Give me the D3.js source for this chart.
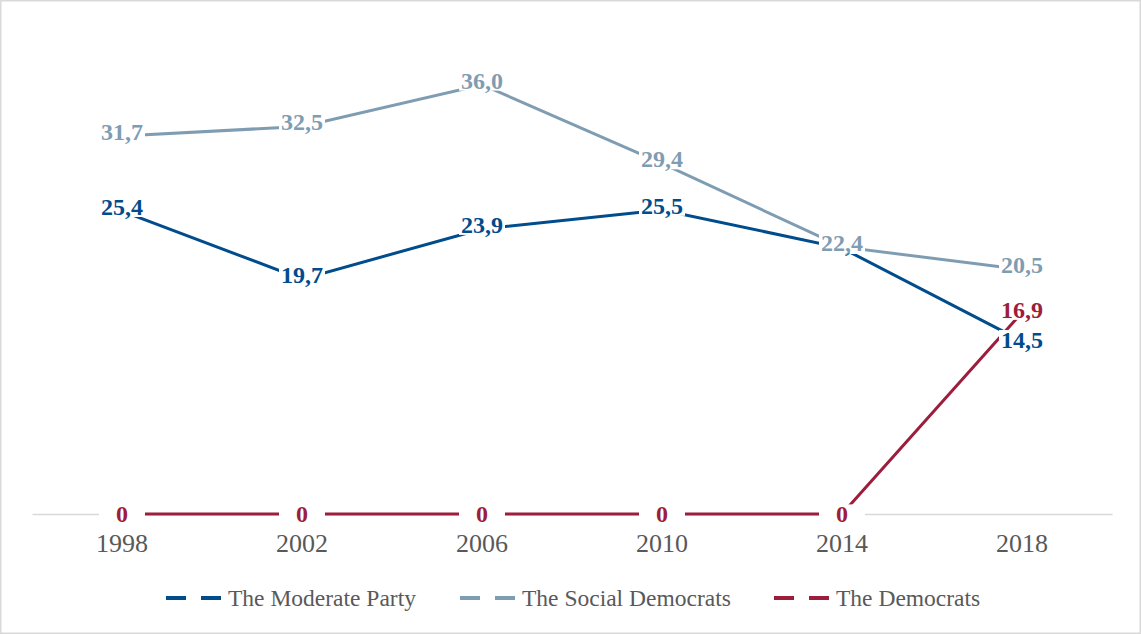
<!DOCTYPE html>
<html><head><meta charset="utf-8">
<script src="https://cdn.jsdelivr.net/npm/d3@7"></script>
<style>body{margin:0;background:#fff}svg{display:block}</style>
</head><body><svg id="c" width="1141" height="634"></svg>
<script>
const years = ["1998","2002","2006","2010","2014","2018"];
const moderate = [25.4, 19.7, 23.9, 25.5, 22.3, 14.5];
const socialDemocrats = [31.7, 32.5, 36.0, 29.4, 22.4, 20.5];
const democrats = [0, 0, 0, 0, 0, 16.9];
const seriesNames = ["The Moderate Party","The Social Democrats","The Democrats"];
const colors = ["#004c8c","#7f9db2","#9c1d3c"];
const serif = "'Liberation Serif', 'Times New Roman', serif";

const svg = d3.select("#c");
svg.append("rect").attr("x",0.75).attr("y",0.75).attr("width",1139.5).attr("height",632.5)
  .attr("fill","#fff").attr("stroke","#d9d9d9").attr("stroke-width",1.5);

const x = d3.scaleBand().domain(years).range([32,1112]);
const y = d3.scaleLinear().domain([0,40]).range([514,37]);
const cx = d => x(d) + x.bandwidth()/2;

const ax = svg.append("g").attr("transform","translate(0,514)")
  .call(d3.axisBottom(x).tickSize(0).tickPadding(20));
ax.select(".domain").attr("stroke","#d9d9d9").attr("stroke-width",1.5);
ax.selectAll("text").attr("font-family",serif).attr("font-size",26).attr("fill","#595959");

const series = [moderate, socialDemocrats, democrats];
const line = d3.line().x((d,i)=>cx(years[i])).y(d=>y(d));
series.forEach((s,k)=>{
  svg.append("path").datum(s).attr("d",line).attr("fill","none")
    .attr("stroke",colors[k]).attr("stroke-width",3);
});
const fmt = v => v===0 ? "0" : d3.format(".1f")(v).replace(".",",");
series.forEach((s,k)=>{
  s.forEach((v,i)=>{
    let yy = y(v) - 4.5;
    if (v===0) yy = y(v);
    if (k===0 && i===5) yy = y(v) - 1.5;
    if (k===2 && i===5) yy = y(v) - 3;
    const g = svg.append("g");
    const t = g.append("text").attr("x",cx(years[i])).attr("y",yy).attr("dy","0.35em")
      .attr("text-anchor","middle").attr("font-family",serif).attr("font-weight","bold")
      .attr("font-size",24).attr("fill",colors[k]).text(fmt(v));
    const b = t.node().getBBox();
    const w = Math.max(b.width+4, 46);
    g.insert("rect","text").attr("x",cx(years[i])-w/2).attr("y",b.y+3).attr("width",w).attr("height",b.height-6).attr("fill","#fff");
  });
});

const legX = [166, 460, 774];
seriesNames.forEach((n,k)=>{
  const g = svg.append("g").attr("transform",`translate(${legX[k]},598)`);
  g.append("line").attr("x1",0).attr("x2",56).attr("y1",0).attr("y2",0)
    .attr("stroke",colors[k]).attr("stroke-width",4).attr("stroke-dasharray","20,15");
  g.append("text").attr("x",62).attr("y",0).attr("dy","0.35em").attr("font-family",serif)
    .attr("font-size",23.5).attr("fill","#595959").text(n);
});
</script></body></html>
